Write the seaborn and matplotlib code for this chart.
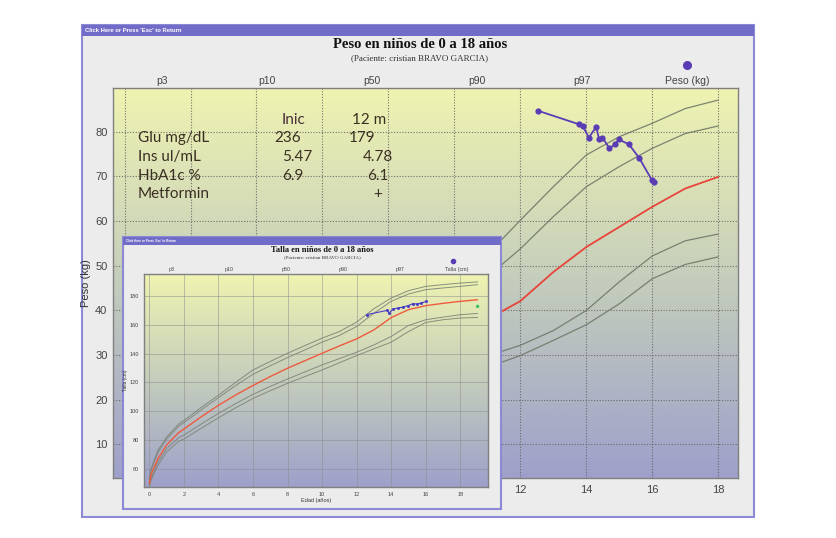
import numpy as np
import pandas as pd
import matplotlib
matplotlib.use("Agg")
import matplotlib.pyplot as plt
from matplotlib.colors import LinearSegmentedColormap
from matplotlib.patches import Rectangle
import matplotlib.transforms as mtransforms
import seaborn as sns

# ---- data: weight chart (main) ----
ages_w = [0, 0.5, 1, 2, 3, 4, 5, 6, 7, 8, 9, 10, 11, 12, 13, 14, 15, 16, 17, 18]
w_p3 = [2.6, 6.4, 8.4, 10.6, 12.3, 13.9, 15.5, 17.2, 19.0, 20.9, 22.9, 25.0, 27.3, 29.9, 33.3, 36.8, 41.5, 47.1, 50.3, 52.0]
w_p10 = [2.9, 6.9, 9.0, 11.3, 13.1, 14.8, 16.5, 18.4, 20.4, 22.5, 24.8, 27.3, 29.8, 32.2, 35.5, 40.0, 46.4, 52.2, 55.6, 57.1]
w_p50 = [3.4, 7.8, 10.2, 12.6, 14.6, 16.6, 18.7, 21.0, 23.4, 26.0, 29.0, 32.5, 38.0, 42.1, 48.6, 54.2, 58.7, 63.2, 67.3, 69.9]
w_p90 = [3.9, 8.9, 11.5, 14.3, 16.8, 19.3, 21.8, 24.8, 28.0, 31.5, 35.5, 40.0, 47.5, 53.8, 61.0, 67.7, 72.2, 76.3, 79.6, 81.3]
w_p97 = [4.3, 9.5, 12.5, 15.5, 18.5, 21.5, 24.5, 28.0, 32.0, 36.5, 41.0, 46.0, 52.5, 60.2, 67.7, 74.8, 78.9, 81.9, 85.2, 87.1]

pat_age_w = [12.54, 13.77, 13.89, 14.08, 14.30, 14.39, 14.49, 14.70, 14.88, 14.98, 15.29, 15.60, 15.98, 16.06]
pat_weight = [84.7, 81.7, 81.3, 78.7, 81.1, 78.3, 78.7, 76.3, 77.2, 78.3, 77.2, 74.2, 69.3, 68.7]

pct_labels = ["p3", "p10", "p50", "p90", "p97"]
main_xlabels = ["0", "", "", "", "", "", "12", "14", "16", "18"]

# lab table
table_cols = ["Inic", "12 m"]
table_rows = ["Glu mg/dL", "Ins ul/mL", "HbA1c %", "Metformin"]
table_inic = ["236", "5.47", "6.9", ""]
table_12m = ["179", "4.78", "6.1", "+"]

# ---- data: height chart (inset) ----
ages_h = [0, 0.1, 0.5, 1, 1.7, 2, 3, 4, 5, 6, 7, 8, 9, 10, 11, 12, 13, 14, 15, 16, 17, 18, 19]
h_p3 = [47.5, 52, 62.3, 71.6, 79, 80.5, 88, 95.3, 102.3, 108.8, 114.2, 119.3, 124, 128.6, 133.6, 138.6, 143.3, 147.9, 155.3, 161.6, 163.5, 164.7, 165.1]
h_p10 = [48, 53, 64.7, 74, 81.5, 83.3, 91, 98.4, 105.2, 111.6, 117.2, 122.3, 127.2, 132.1, 136.5, 140.9, 146, 151.9, 159.5, 163.5, 165.3, 167, 167.9]
h_p50 = [49.5, 56, 67, 76.5, 85, 87.5, 96, 104, 111.2, 117.8, 124, 129.8, 135, 140.2, 145.3, 150.2, 156.5, 165, 170.5, 173.3, 174.9, 176.3, 177.4]
h_p90 = [51.5, 59, 71.2, 80.5, 89.5, 92, 100.8, 109.3, 117.8, 125.6, 131.5, 137.2, 142.5, 147.9, 152.6, 158.8, 168.1, 176.3, 181.4, 184.4, 185.6, 186.7, 187.9]
h_p97 = [52, 60, 72.8, 82, 91, 93.5, 102.5, 111, 120, 128.6, 134.5, 140.2, 145.5, 150.7, 155.3, 161.9, 171.2, 178.6, 183.7, 186.7, 187.9, 189, 189.8]

pat_age_h = [12.57, 13.76, 13.87, 14.10, 14.39, 14.68, 14.97, 15.26, 15.49, 15.74, 16.03]
pat_height = [167.0, 170.0, 168.1, 171.0, 171.6, 172.3, 173.3, 174.7, 174.4, 175.1, 176.3]
target_age = [19.0]
target_height = [172.8]

W, H = 836, 538


def fx(x):
    return x / W


def fy(y):
    return 1 - y / H


sns.set_style("white")
plt.rcParams["font.family"] = ["Liberation Sans", "DejaVu Sans"]

fig = plt.figure(figsize=(8.36, 5.38), dpi=100)
fig.patch.set_facecolor("white")

grad_cmap = LinearSegmentedColormap.from_list(
    "bg", ["#9ea0ca", "#c4cdbc", "#eff3b1"])
grad = np.linspace(0, 1, 256).reshape(-1, 1)

win_border = "#8c8ad4"
bar_color = "#716cc8"
gray_line = "#6f7868"
red_line = "#e8443a"
purple = "#5a3db5"


def draw_window(x0, y0, x1, y1, bar_h, z, fsize):
    fig.patches.append(Rectangle((fx(x0), fy(y1)), fx(x1 - x0), (y1 - y0) / H,
                                 transform=fig.transFigure, facecolor="#ececec",
                                 edgecolor=win_border, lw=1.5, zorder=z))
    fig.patches.append(Rectangle((fx(x0), fy(y0 + bar_h)), fx(x1 - x0), bar_h / H,
                                 transform=fig.transFigure, facecolor=bar_color,
                                 edgecolor="none", zorder=z + 0.01))
    fig.text(fx(x0 + 3), fy(y0 + bar_h / 2), "Click Here or Press 'Esc' to Return",
             color="white", fontsize=fsize, fontweight="bold", va="center",
             zorder=z + 0.02)


def style_axes(ax, xlim, ylim, xmaj, ymaj, xmin, ymin, lab_size, grid_ls):
    ax.imshow(grad, extent=[xlim[0], xlim[1], ylim[0], ylim[1]], aspect="auto",
              origin="lower", cmap=grad_cmap, zorder=0)
    ax.set_xlim(xlim)
    ax.set_ylim(ylim)
    ax.set_xticks(xmaj)
    ax.set_yticks(ymaj)
    ax.set_xticks(xmin, minor=True)
    ax.set_yticks(ymin, minor=True)
    ax.grid(True, which="major", color="#5e5e5e", lw=0.8, ls=grid_ls, alpha=0.85)
    ax.tick_params(which="major", direction="out", length=3, color="#777777",
                   labelsize=lab_size, labelcolor="#444444", pad=2)
    ax.tick_params(which="minor", direction="in", length=3, color="white", width=0.8)
    for s in ax.spines.values():
        s.set_color("#808080")
        s.set_linewidth(1)
    ax.set_xlabel("")
    ax.set_ylabel("")


# ---- outer window ----
draw_window(82, 25, 754, 517, 10.5, -2, 4.2)
fig.text(fx(420), fy(45), "Peso en niños de 0 a 18 años", ha="center", va="center",
         fontsize=10.5, fontweight="bold", family="Liberation Serif", color="#111111")
fig.text(fx(420), fy(58), "(Paciente: cristian BRAVO GARCIA)", ha="center", va="center",
         fontsize=6.5, family="Liberation Serif", color="#333333")

# ---- main weight axes ----
ax = fig.add_axes([fx(113), fy(478), fx(738 - 113), (478 - 88) / H])
ax.set_zorder(0)
style_axes(ax, (-0.35, 18.6), (2.5, 89.8), np.arange(0, 19, 2), np.arange(10, 90, 10),
           np.arange(0, 18.6, 0.5), np.arange(4, 90, 2), 8, (0, (1, 1.5)))
ax.set_xticklabels(main_xlabels)
ax.tick_params(axis="y", which="major", pad=1)
for vals in [w_p3, w_p10, w_p90, w_p97]:
    sns.lineplot(x=ages_w, y=vals, ax=ax, color=gray_line, lw=0.9, alpha=0.9, zorder=2)
sns.lineplot(x=ages_w, y=w_p50, ax=ax, color=red_line, lw=1.3, zorder=3)
sns.lineplot(x=pat_age_w, y=pat_weight, ax=ax, color=purple, lw=1.3, marker="o",
             markersize=4.5, markeredgewidth=0, zorder=4, sort=False)
ax.set_ylabel("Peso (kg)", fontsize=8, color="#333333")
ax.yaxis.set_label_coords(-0.036, 0.5)

trans_top = mtransforms.blended_transform_factory(ax.transData, ax.transAxes)
top_labels = pct_labels + ["Peso (kg)"]
for i, lab in enumerate(top_labels):
    ax.text(1.15 + 3.18 * i, 1.005, lab, transform=trans_top, ha="center", va="bottom",
            fontsize=7.5, color="#444444")
ax.plot([1.15 + 3.18 * 5], [1.06], transform=trans_top, marker="o", ms=5.5,
        color=purple, clip_on=False)

# lab values table
txt_color = "#3a2f22"
tfont = ["Lato", "DejaVu Sans"]
tsize = 11
fig.text(fx(282), fy(120), table_cols[0], fontsize=tsize, family=tfont, color="#4a2f3a", va="center")
fig.text(fx(352), fy(120), table_cols[1], fontsize=tsize, family=tfont, color=txt_color, va="center")
row_y = [138, 157, 175.5, 194]
col1_x = [274, 282, 282, 0]
col2_x = [349, 363, 367, 373]
for i, r in enumerate(table_rows):
    fig.text(fx(138), fy(row_y[i]), r, fontsize=tsize, family=tfont, color=txt_color, va="center")
    if table_inic[i]:
        fig.text(fx(col1_x[i]), fy(row_y[i]), table_inic[i], fontsize=tsize, family=tfont,
                 color=txt_color, va="center")
    if table_12m[i]:
        fig.text(fx(col2_x[i]), fy(row_y[i]), table_12m[i], fontsize=tsize, family=tfont,
                 color=txt_color, va="center")

# ---- inset height window ----
draw_window(123, 237, 501, 509, 8, 1, 2.2)
fig.text(fx(322), fy(250.5), "Talla en niños de 0 a 18 años", ha="center", va="center",
         fontsize=6, fontweight="bold", family="Liberation Serif", color="#111111", zorder=1.5)
fig.text(fx(322), fy(257.5), "(Paciente: cristian BRAVO GARCIA)", ha="center", va="center",
         fontsize=3.6, family="Liberation Serif", color="#333333", zorder=1.5)

axi = fig.add_axes([fx(144), fy(487), fx(488 - 144), (487 - 274) / H])
axi.set_zorder(2)
style_axes(axi, (-0.31, 19.6), (47.2, 195.3), np.arange(0, 19, 2), np.arange(60, 190, 20),
           np.arange(0, 19.6, 0.5), np.arange(50, 195, 5), 4, "-")
axi.grid(True, which="major", color="#8a8a8a", lw=0.5, ls="-", alpha=0.7)
axi.tick_params(which="minor", length=1.5)
axi.tick_params(which="major", length=2, pad=1.5)
for vals in [h_p3, h_p10, h_p90, h_p97]:
    sns.lineplot(x=ages_h, y=vals, ax=axi, color="#7d8477", lw=0.7, alpha=0.9, zorder=2)
sns.lineplot(x=ages_h, y=h_p50, ax=axi, color="#ef5a3e", lw=1.0, zorder=3)
sns.lineplot(x=pat_age_h, y=pat_height, ax=axi, color="#4a3fc4", lw=0.8, marker="o",
             markersize=2.2, markeredgewidth=0, zorder=4, sort=False)
sns.scatterplot(x=target_age, y=target_height, ax=axi, color="#3fbf6a", s=6,
                edgecolor="none", zorder=5)
axi.set_xlabel("Edad (años)", fontsize=4, color="#333333", labelpad=1)
axi.set_ylabel("Talla (cm)", fontsize=3.5, color="#333333", labelpad=1)

trans_top_i = mtransforms.blended_transform_factory(axi.transData, axi.transAxes)
top_labels_i = pct_labels + ["Talla (cm)"]
for i, lab in enumerate(top_labels_i):
    axi.text(1.3 + 3.3 * i, 1.01, lab, transform=trans_top_i, ha="center", va="bottom",
             fontsize=3.8, color="#444444")
axi.plot([1.3 + 3.3 * 5 - 0.2], [1.06], transform=trans_top_i, marker="o", ms=3,
         color=purple, clip_on=False)

fig.savefig("out.png", dpi=100)
